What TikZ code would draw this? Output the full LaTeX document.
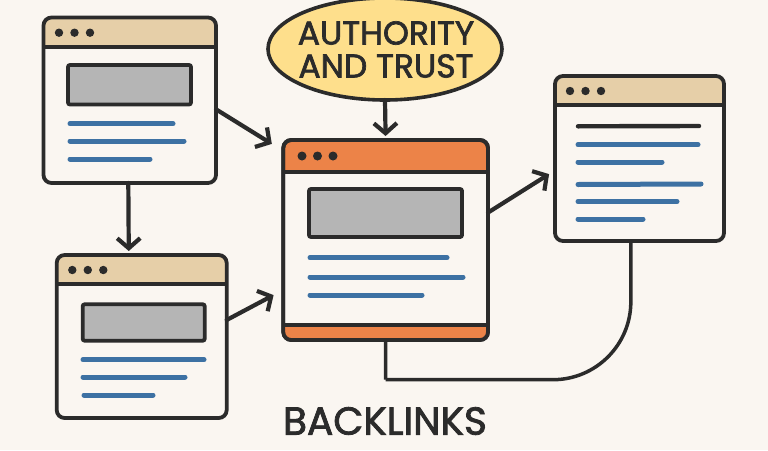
\documentclass[tikz,border=0pt]{standalone}
\usepackage{fontspec}
\setmainfont{Poppins}[FakeBold=2]
\usetikzlibrary{arrows.meta,shapes.geometric}
\definecolor{page_bg}{RGB}{250,246,241}
\definecolor{line_dark}{RGB}{43,43,43}
\definecolor{head_tan}{RGB}{230,207,168}
\definecolor{head_orange}{RGB}{236,131,72}
\definecolor{box_grey}{RGB}{181,181,181}
\definecolor{text_blue}{RGB}{61,113,163}
\definecolor{oval_yell}{RGB}{254,223,140}

% name, left, top, right, bottom, header line, header colour
\newcommand\webwin[7]{
    \fill[#7,rounded corners=8] (#2,#6) |- (#4,#3) -- (#4,#6);
    \node[window,minimum width={#4-#2},minimum height={#5-#3}] (#1) at ({(#2+#4)/2},{(#3+#5)/2}) {};
    \draw[frame] (#2,#6) -- (#4,#6);
}
\newcommand\windots[3]{
    \foreach \dx in {0,15.5,31} \fill[line_dark] (#1+\dx,#2) circle (#3);
}

\begin{document}
\begin{tikzpicture}[x=1pt,y=-1pt,line_dark]
    \tikzstyle{frame}=[line width=3.8pt,draw=line_dark]
    \tikzstyle{window}=[draw=line_dark,line width=3.8pt,rounded corners=8,inner sep=0pt,outer sep=0pt]
    \tikzstyle{picbox}=[draw=line_dark,line width=3.8pt,fill=box_grey,rounded corners=2]
    \tikzstyle{textline}=[text_blue,line width=5pt,line cap=round]
    \tikzstyle{link}=[line_dark,line width=4.2pt,line cap=round,-{Straight Barb[length=10pt,width=23pt,line width=4.2pt]}]
    \tikzstyle{plain}=[line_dark,line width=3.5pt]

    \fill[page_bg] (0,0) rectangle (768,450);
    \useasboundingbox (0,0) rectangle (768,450);

    % top left window
    \webwin{winTL}{43.5}{17.5}{216}{183}{46.7}{head_tan}
    \windots{59}{32.7}{4.2}
    \draw[picbox] (68,65) rectangle (191,104.5);
    \draw[textline] (70,123.7) -- (173,123.7);
    \draw[textline] (70,141) -- (184,141);
    \draw[textline] (70,159) -- (150,159);

    % bottom left window
    \webwin{winBL}{56.7}{255}{226.7}{418}{284}{head_tan}
    \windots{72.3}{270}{4.2}
    \draw[picbox] (82.7,304.3) rectangle (204.7,340.7);
    \draw[textline] (83,359.7) -- (204,359.7);
    \draw[textline] (83,377) -- (185,377);
    \draw[textline] (84,395) -- (153,395);

    % middle window
    \webwin{winC}{283.3}{140}{488}{340}{172}{head_orange}
    \fill[head_orange,rounded corners=8] (283.3,325) |- (488,340) -- (488,325);
    \node[window,minimum width=204.7,minimum height=200] (winCtop) at (385.65,240) {};
    \draw[frame] (283.3,325) -- (488,325);
    \windots{302}{156}{4.5}
    \draw[picbox] (309,189) rectangle (462,237);
    \draw[textline] (310,257.7) -- (447,257.7);
    \draw[textline] (310,277) -- (463,277);
    \draw[textline] (310,295) -- (422,295);

    % right window
    \webwin{winR}{555}{76}{724}{241}{105}{head_tan}
    \windots{570}{91}{4.2}
    \draw[line_dark,line width=4.4pt,line cap=round] (578,126.3) -- (699,126);
    \draw[textline] (578,144.7) -- (698,144.7);
    \draw[textline] (578,162) -- (662,162);
    \draw[textline] (578,184.5) -- (701,184);
    \draw[textline] (578,201.5) -- (677,201.5);
    \draw[textline] (578,219) -- (643,219);

    \node[ellipse,draw=line_dark,line width=3.6pt,fill=oval_yell,minimum width=234,minimum height=102,inner sep=0pt,outer sep=0pt] (trust) at (385,49) {};
    \node[align=center,inner sep=0pt,font=\fontsize{33}{33}\selectfont,text=line_dark] (trustlabel) at (386,49.5) {AUTHORITY\\AND TRUST};
    \node[inner sep=0pt,font=\fontsize{39}{39}\selectfont,text=line_dark] (backlinks) at (385,421) {BACKLINKS};

    \coordinate (bendF) at (385.7,379.7);

    \draw[link,shorten >=13.5pt] (winTL.-6.6) -- (winC.139);
    \draw[link,shorten >=4pt] (winTL.-91.2) -- (winBL.99.5);
    \draw[link,shorten >=11pt] (winBL.11.3) -- (winC.206);
    \draw[link,shorten >=4pt] (trust.south) -- (winC.north);
    \draw[link,shorten >=7pt] (winC.15.9) -- (winR.188.3);
    \draw[plain,rounded corners=78] (winR.-96.6) |- (bendF);
    \draw[plain] (bendF) -- (winC.south);
\end{tikzpicture}
\end{document}
